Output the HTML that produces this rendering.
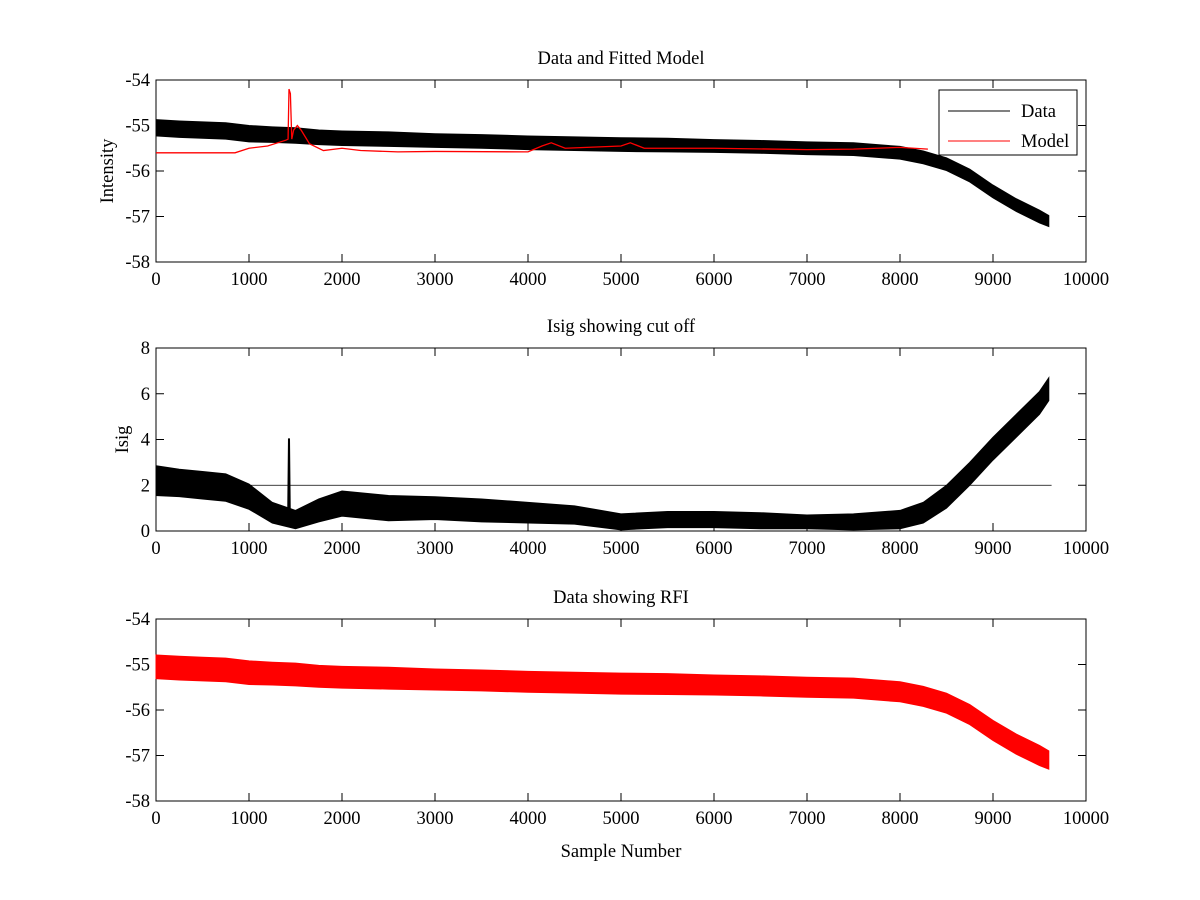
<!DOCTYPE html>
<html><head><meta charset="utf-8"><style>
body{margin:0;background:#fff}
svg{display:block;font-family:"Liberation Serif",serif}
</style></head><body>
<svg id="fig" width="1200" height="900"></svg>
<script>
const xs1=[0,250,500,750,1000,1250,1500,1750,2000,2500,3000,3500,4000,4500,5000,5500,6000,6500,7000,7500,8000,8250,8500,8750,9000,9250,9500,9600];
const dataC=[-55.05,-55.08,-55.1,-55.12,-55.18,-55.2,-55.22,-55.26,-55.28,-55.3,-55.33,-55.35,-55.38,-55.4,-55.42,-55.43,-55.45,-55.47,-55.5,-55.52,-55.6,-55.7,-55.85,-56.1,-56.45,-56.75,-57.0,-57.1];
const dataW=[0.18,0.18,0.18,0.18,0.18,0.17,0.17,0.16,0.16,0.16,0.15,0.15,0.15,0.15,0.15,0.15,0.14,0.14,0.14,0.14,0.14,0.14,0.14,0.14,0.14,0.14,0.14,0.12];
const modelX=[0,850,1000,1200,1400,1420,1430,1445,1460,1480,1520,1560,1650,1800,2000,2200,2600,3000,4000,4150,4250,4400,5000,5100,5250,6000,7000,7500,8000,8300];
const modelY=[-55.6,-55.6,-55.5,-55.45,-55.32,-55.3,-54.2,-54.3,-55.3,-55.1,-55.0,-55.1,-55.4,-55.55,-55.5,-55.55,-55.58,-55.57,-55.58,-55.45,-55.38,-55.5,-55.45,-55.38,-55.5,-55.5,-55.53,-55.52,-55.48,-55.52];
const isigC=[2.2,2.1,2.0,1.9,1.5,0.8,0.5,0.9,1.2,1.0,1.0,0.9,0.8,0.7,0.4,0.5,0.5,0.45,0.4,0.4,0.5,0.8,1.5,2.5,3.6,4.6,5.6,6.2];
const isigW=[0.65,0.6,0.6,0.6,0.55,0.45,0.4,0.5,0.55,0.55,0.5,0.5,0.45,0.4,0.35,0.35,0.35,0.35,0.3,0.35,0.4,0.45,0.5,0.5,0.5,0.5,0.5,0.5];
const spikeX=[1420,1430,1440];
const spikeY=[0.2,4.05,0.2];
const cutoff=2;
const xTicks=[0,1000,2000,3000,4000,5000,6000,7000,8000,9000,10000];
const yTicks1=[-58,-57,-56,-55,-54];
const yTicks2=[0,2,4,6,8];
const FS=18.5;
const NS="http://www.w3.org/2000/svg";
const svg=document.getElementById('fig');
function el(t,a,p){const e=document.createElementNS(NS,t);for(const k in a)e.setAttribute(k,a[k]);(p||svg).appendChild(e);return e;}
const X=v=>156+v*0.093;
function mkY(top,bot,lo,hi){return v=>bot-(v-lo)/(hi-lo)*(bot-top);}
function axes(top,bot,yt,Y,name,title,ylabel){
  const g=el('g',{});
  el('rect',{x:156,y:top,width:930,height:bot-top,fill:'#fff',stroke:'#000','stroke-width':1},g);
  xTicks.forEach(t=>{const x=X(t);el('line',{x1:x,x2:x,y1:bot,y2:bot-8,stroke:'#000'},g);el('line',{x1:x,x2:x,y1:top,y2:top+8,stroke:'#000'},g);
    const tx=el('text',{x:x,y:bot+23,'text-anchor':'middle','font-size':FS},g);tx.textContent=t;});
  yt.forEach(t=>{const y=Y(t);el('line',{x1:156,x2:164,y1:y,y2:y,stroke:'#000'},g);el('line',{x1:1086,x2:1078,y1:y,y2:y,stroke:'#000'},g);
    const tx=el('text',{x:150,y:y+6,'text-anchor':'end','font-size':FS},g);tx.textContent=t;});
  const tt=el('text',{x:621,y:top-16,'text-anchor':'middle','font-size':FS},g);tt.textContent=title;
  if(ylabel){const lx=ylabel[1];const yl=el('text',{x:lx,y:(top+bot)/2,'text-anchor':'middle','font-size':FS,transform:`rotate(-90 ${lx} ${(top+bot)/2})`},g);yl.textContent=ylabel[0];}
  return g;
}
function band(xv,c,w,Y,color,name,g){
  let d='';xv.forEach((x,i)=>d+=(i?'L':'M')+X(x)+','+Y(c[i]+w[i]));
  for(let i=xv.length-1;i>=0;i--)d+='L'+X(xv[i])+','+Y(c[i]-w[i]);
  const p=el('path',{d:d+'Z',fill:color,stroke:color,'stroke-width':1},g);
}
function line(xv,yv,Y,color,name,g,w){
  const p=el('polyline',{points:xv.map((x,i)=>X(x)+','+Y(yv[i])).join(' '),fill:'none',stroke:color,'stroke-width':w||1},g);
  
}
const Y1=mkY(80,262,-58,-54);
const g1=axes(80,262,yTicks1,Y1,'plot-data-model','Data and Fitted Model',['Intensity',113]);
band(xs1,dataC,dataW,Y1,'#000','data-series',g1);
line(modelX,modelY,Y1,'#f00','model-series',g1,1.3);
const lg=el('g',{},g1);
el('rect',{x:939,y:90,width:138,height:65,fill:'#fff',stroke:'#000'},lg);
el('line',{x1:948,x2:1010,y1:111,y2:111,stroke:'#000'},lg);
el('line',{x1:948,x2:1010,y1:141,y2:141,stroke:'#f00'},lg);
let t=el('text',{x:1021,y:117,'font-size':FS},lg);t.textContent='Data';
t=el('text',{x:1021,y:147,'font-size':FS},lg);t.textContent='Model';
const Y2=mkY(348,531,0,8);
const g2=axes(348,531,yTicks2,Y2,'plot-isig','Isig showing cut off',['Isig',128]);
band(xs1,isigC.map((c,i)=>Math.max(c,isigW[i])),isigW,Y2,'#000','isig-series',g2);
line(spikeX,spikeY,Y2,'#000','isig-spike',g2,2);
line([0,9630],[cutoff,cutoff],Y2,'#000','cutoff-line',g2,0.8);
const Y3=mkY(619,801,-58,-54);
const g3=axes(619,801,yTicks1,Y3,'plot-rfi','Data showing RFI',null);
band(xs1,dataC,dataW.map(w=>w+0.08),Y3,'#f00','rfi-series',g3);
const xl=el('text',{x:621,y:857,'text-anchor':'middle','font-size':FS});xl.textContent='Sample Number';


</script>
</body></html>
